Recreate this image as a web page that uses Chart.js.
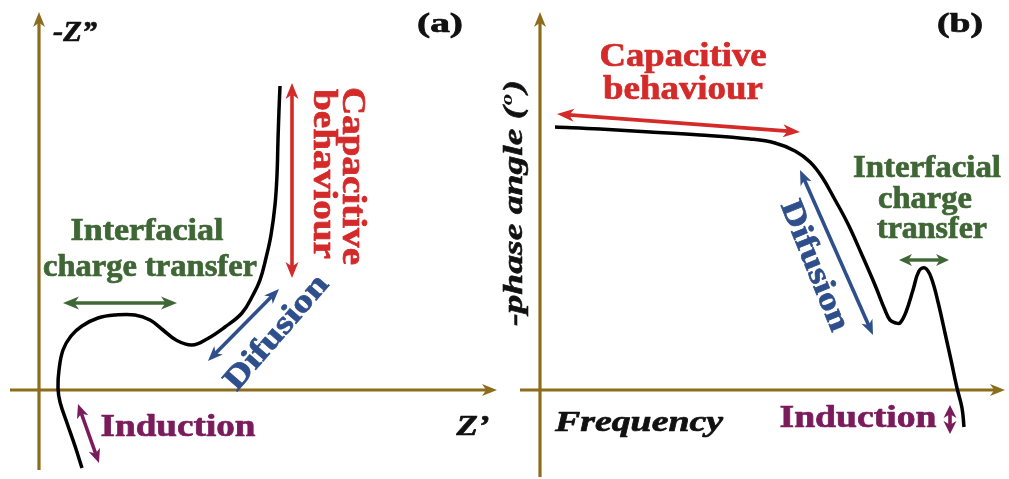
<!DOCTYPE html>
<html>
<head>
<meta charset="utf-8">
<script src="https://cdn.jsdelivr.net/npm/chart.js@4/dist/chart.umd.min.js"></script>
<style>
  html, body { margin: 0; padding: 0; background: #ffffff; }
  #wrap { position: relative; width: 1009px; height: 479px; overflow: hidden; }
  canvas { position: absolute; top: 0; }
  #ca { left: 0; }
  #cb { left: 500px; }
</style>
</head>
<body>
<div id="wrap">
  <canvas id="ca" width="500" height="479"></canvas>
  <canvas id="cb" width="509" height="479"></canvas>
</div>
<script>
// ---------- Data (arbitrary schematic units) ----------
// (a) Nyquist plot: Z' (real) and -Z'' (imaginary)
const nyquistZre = [4.3, 3.6, 2.8, 2.1, 1.9, 2.0, 2.4, 3.2, 4.3, 5.9, 7.7, 9.6, 11.1, 12.4, 13.7, 15.3, 16.8, 18.6, 20.3, 21.4, 22.1, 22.7, 23.2, 23.6, 23.8, 23.9, 24.0, 24.1];
const nyquistZim = [-7.8, -5.6, -3.3, -1.2, 0.2, 2.0, 4.0, 5.4, 6.4, 7.2, 7.5, 7.5, 7.0, 6.0, 5.0, 4.5, 5.1, 6.3, 7.7, 9.5, 11.0, 13.2, 15.5, 18.5, 21.5, 25.0, 28.0, 30.4];

// (b) Bode phase plot: frequency and -phase angle
const bodeFreq  = [1.5, 6.0, 11.0, 16.0, 21.0, 23.5, 25.5, 27.0, 28.2, 29.4, 30.8, 32.2, 33.5, 34.5, 35.0, 35.6, 36.0, 36.6, 37.3, 37.9, 38.5, 39.1, 39.8, 40.5, 41.1, 41.7, 42.2, 42.4];
const bodePhase = [26.3, 26.1, 25.8, 25.5, 25.1, 24.7, 23.9, 22.8, 21.3, 19.2, 16.6, 13.5, 10.5, 8.0, 7.0, 6.7, 6.7, 7.8, 10.0, 11.9, 12.2, 11.3, 8.8, 5.7, 3.0, 0.2, -1.8, -3.7];

// Text labels
const panelLabels  = ["(a)", "(b)"];
const axisTitlesA  = ["Z\u2019", "-Z\u201D"];
const axisTitlesB  = ["Frequency", "-phase angle ("];
const regionLabels = ["Capacitive", "behaviour", "Interfacial", "charge transfer", "charge", "transfer", "Difusion", "Induction"];

// ---------- Styles ----------
const AXIS = "#8c6d1c";
const RED = "#d42a2a";
const GREEN = "#3f6635";
const BLUE = "#2e4f8c";
const PURPLE = "#7a1b5c";
const SERIF = "\"Liberation Serif\", \"Times New Roman\", Times, serif";

// ---------- Helpers ----------
function px(chart, x, y) {
  return [chart.scales.x.getPixelForValue(x), chart.scales.y.getPixelForValue(y)];
}
function arrowHead(ctx, tx, ty, ang, len, wid, color) {
  ctx.save();
  ctx.translate(tx, ty);
  ctx.rotate(ang);
  ctx.beginPath();
  ctx.moveTo(0, 0);
  ctx.lineTo(-len, -wid / 2);
  ctx.lineTo(-len * 0.72, 0);
  ctx.lineTo(-len, wid / 2);
  ctx.closePath();
  ctx.fillStyle = color;
  ctx.fill();
  ctx.restore();
}
function dblArrow(chart, a, b, color, lw, hl, hw) {
  const ctx = chart.ctx;
  const [x1, y1] = px(chart, a[0], a[1]);
  const [x2, y2] = px(chart, b[0], b[1]);
  const ang = Math.atan2(y2 - y1, x2 - x1);
  const ux = Math.cos(ang), uy = Math.sin(ang);
  ctx.save();
  ctx.strokeStyle = color;
  ctx.lineWidth = lw;
  ctx.beginPath();
  ctx.moveTo(x1 + ux * hl * 0.7, y1 + uy * hl * 0.7);
  ctx.lineTo(x2 - ux * hl * 0.7, y2 - uy * hl * 0.7);
  ctx.stroke();
  ctx.restore();
  arrowHead(ctx, x2, y2, ang, hl, hw, color);
  arrowHead(ctx, x1, y1, ang + Math.PI, hl, hw, color);
}
function axisLine(chart, a, b, arrow) {
  const ctx = chart.ctx;
  const [x1, y1] = px(chart, a[0], a[1]);
  const [x2, y2] = px(chart, b[0], b[1]);
  const ang = Math.atan2(y2 - y1, x2 - x1);
  ctx.save();
  ctx.strokeStyle = AXIS;
  ctx.lineWidth = 3.2;
  ctx.beginPath();
  ctx.moveTo(x1, y1);
  ctx.lineTo(x2 - Math.cos(ang) * 8, y2 - Math.sin(ang) * 8);
  ctx.stroke();
  ctx.restore();
  if (arrow) arrowHead(ctx, x2, y2, ang, 15, 12, AXIS);
}
// text fitted to a given length along its direction
function label(chart, text, pos, opt) {
  const ctx = chart.ctx;
  const [cx, cy] = px(chart, pos[0], pos[1]);
  ctx.save();
  ctx.translate(cx, cy);
  ctx.rotate((opt.rot || 0) * Math.PI / 180);
  ctx.font = (opt.italic ? "italic " : "") + "bold " + opt.size + "px " + SERIF;
  const col = opt.color || "#111";
  ctx.fillStyle = col;
  ctx.strokeStyle = col;
  ctx.lineWidth = 0.7;
  ctx.lineJoin = "round";
  ctx.textAlign = "center";
  ctx.textBaseline = "middle";
  const w = ctx.measureText(text).width;
  if (opt.len) ctx.scale(opt.len / w, 1);
  ctx.fillText(text, 0, 0);
  ctx.strokeText(text, 0, 0);
  ctx.restore();
}

function lineDataset(xs, ys) {
  return {
    data: xs.map((x, i) => ({ x: x, y: ys[i] })),
    showLine: true,
    borderColor: "#000",
    borderWidth: 3.5,
    pointRadius: 0,
    tension: 0.4,
    fill: false
  };
}

function baseOptions(xmin, xmax, ymin, ymax) {
  return {
    responsive: false,
    animation: false,
    events: [],
    layout: { padding: 0 },
    plugins: { legend: { display: false }, tooltip: { enabled: false }, title: { display: false } },
    scales: {
      x: { type: "linear", min: xmin, max: xmax, display: false },
      y: { type: "linear", min: ymin, max: ymax, display: false }
    }
  };
}

// ---------- Panel (a) ----------
const decorA = {
  id: "decorA",
  beforeDatasetsDraw(chart) {
    axisLine(chart, [0, -8.0], [0, 37.8], true);
    axisLine(chart, [-2.9, 0], [45.8, 0], true);
  },
  afterDatasetsDraw(chart) {
    dblArrow(chart, [25.3, 30.7], [25.3, 11.2], RED, 3.6, 16, 13);
    dblArrow(chart, [2.4, 8.7], [13.8, 8.7], GREEN, 3.6, 16, 13);
    dblArrow(chart, [16.9, 2.9], [24.0, 10.1], BLUE, 3.6, 15, 12);
    dblArrow(chart, [3.9, -1.4], [6.0, -7.3], PURPLE, 3.6, 14, 12);
    label(chart, panelLabels[0], [40.1, 36.5], { size: 27, len: 46 });
    label(chart, axisTitlesA[1], [3.6, 35.6], { size: 29, len: 44, italic: true });
    label(chart, axisTitlesA[0], [43.4, -3.8], { size: 29, len: 33, italic: true });
    label(chart, regionLabels[0], [31.3, 21.4], { size: 33, len: 178, rot: 90, color: RED });
    label(chart, regionLabels[1], [28.4, 21.6], { size: 33, len: 170, rot: 90, color: RED });
    label(chart, regionLabels[2], [10.8, 15.8], { size: 31, len: 153, color: GREEN });
    label(chart, regionLabels[3], [11.1, 12.2], { size: 31, len: 214, color: GREEN });
    label(chart, regionLabels[6], [23.8, 5.7], { size: 32, len: 142, rot: -49, color: BLUE });
    label(chart, regionLabels[7], [13.9, -3.8], { size: 31, len: 155, color: PURPLE });
  }
};

// ---------- Panel (b) ----------
const decorB = {
  id: "decorB",
  beforeDatasetsDraw(chart) {
    axisLine(chart, [0, -8.7], [0, 37.8], true);
    axisLine(chart, [-2.0, 0], [46.5, 0], true);
  },
  afterDatasetsDraw(chart) {
    dblArrow(chart, [1.7, 27.6], [26.0, 25.8], RED, 3.6, 17, 13);
    dblArrow(chart, [26.0, 22.0], [33.3, 5.5], BLUE, 3.6, 15, 12);
    dblArrow(chart, [35.9, 13.0], [40.9, 13.0], GREEN, 3.4, 13, 12);
    dblArrow(chart, [41.0, -1.5], [41.0, -4.4], PURPLE, 3.6, 13, 13);

    label(chart, panelLabels[1], [42.0, 36.5], { size: 27, len: 46 });
    label(chart, axisTitlesB[0], [9.9, -3.3], { size: 30, len: 168, italic: true });
    {
      const ctx = chart.ctx;
      const [cx, cy] = px(chart, -2.5, 18.7);
      ctx.save();
      ctx.translate(cx, cy);
      ctx.rotate(-Math.PI / 2);
      const big = "italic bold 28px " + SERIF, small = "italic bold 17px " + SERIF;
      ctx.font = big; const w1 = ctx.measureText(axisTitlesB[1]).width; const w3 = ctx.measureText(")").width;
      ctx.font = small; const w2 = ctx.measureText("o").width;
      const tot = w1 + w2 + w3 + 2, target = 246;
      ctx.scale(target / tot, 1);
      ctx.textBaseline = "middle";
      ctx.textAlign = "left";
      ctx.fillStyle = "#111";
      ctx.strokeStyle = "#111";
      ctx.lineWidth = 0.6;
      let x = -tot / 2;
      ctx.font = big; ctx.fillText(axisTitlesB[1], x, 0); ctx.strokeText(axisTitlesB[1], x, 0); x += w1 + 1;
      ctx.font = small; ctx.fillText("o", x, -7); x += w2 + 1;
      ctx.font = big; ctx.fillText(")", x, 0); ctx.strokeText(")", x, 0);
      ctx.restore();
    }
    label(chart, regionLabels[0], [14.3, 33.3], { size: 33, len: 167, color: RED });
    label(chart, regionLabels[1], [14.3, 30.0], { size: 33, len: 160, color: RED });
    label(chart, regionLabels[6], [27.4, 12.4], { size: 32, len: 138, rot: 68, color: BLUE });
    label(chart, regionLabels[2], [38.7, 22.1], { size: 31, len: 148, color: GREEN });
    label(chart, regionLabels[4], [38.5, 19.0], { size: 31, len: 94, color: GREEN });
    label(chart, regionLabels[5], [39.2, 16.0], { size: 31, len: 110, color: GREEN });
    label(chart, regionLabels[7], [31.8, -2.9], { size: 31, len: 157, color: PURPLE });
  }
};

function build() {
  new Chart(document.getElementById("ca"), {
    type: "scatter",
    data: { datasets: [lineDataset(nyquistZre, nyquistZim)] },
    options: baseOptions(-3.9, 46.1, -8.9, 39.0),
    plugins: [decorA]
  });
  new Chart(document.getElementById("cb"), {
    type: "scatter",
    data: { datasets: [lineDataset(bodeFreq, bodePhase)] },
    options: baseOptions(-4.0, 46.9, -8.9, 39.0),
    plugins: [decorB]
  });
}

Promise.all([
  document.fonts.load('bold 30px "Liberation Serif"'),
  document.fonts.load('italic bold 30px "Liberation Serif"')
]).then(build, build);
</script>
</body>
</html>
